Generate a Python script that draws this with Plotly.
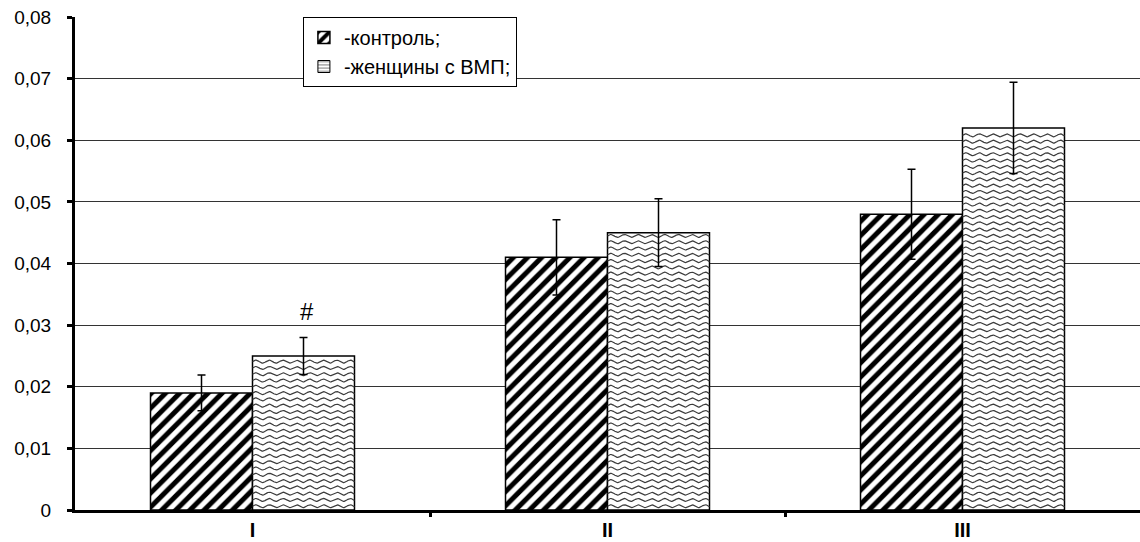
import numpy as np
import plotly.graph_objects as go

# Groups and measured means with their errors
groups = ["I", "II", "III"]
control_vals = [0.019, 0.041, 0.048]
control_err = [0.0029, 0.0061, 0.0073]
vmp_vals = [0.025, 0.045, 0.062]
vmp_err = [0.003, 0.0055, 0.0074]

y_ticks = [0, 0.01, 0.02, 0.03, 0.04, 0.05, 0.06, 0.07, 0.08]
y_ticktext = ["0", "0,01", "0,02", "0,03", "0,04", "0,05", "0,06", "0,07", "0,08"]

FONT = "Liberation Sans, Arial, sans-serif"
BAR_W = 0.2873          # width of one bar in category units
pos = np.arange(len(groups), dtype=float)

# wavy hatch geometry (data units)
WAVE_DY = 0.00102
WAVE_AMP = 0.00024
WAVE_PERIOD = 0.038

fig = go.Figure()

# control bars: diagonal hatch
fig.add_trace(go.Bar(
    x=pos, y=control_vals, name="-контроль;",
    width=BAR_W, offset=-BAR_W,
    marker=dict(color="white", line=dict(color="black", width=1.5),
                pattern=dict(shape="/", fgcolor="black", bgcolor="white",
                             size=10, solidity=0.5, fgopacity=1)),
    showlegend=True,
))
# women with VMP: white bars, wavy hatch drawn on top
fig.add_trace(go.Bar(
    x=pos, y=vmp_vals, name="-женщины с ВМП;",
    width=BAR_W, offset=0,
    marker=dict(color="white", line=dict(color="black", width=1.5)),
    showlegend=False,
))
# legend swatch for the wavy series
fig.add_trace(go.Bar(
    x=[None], y=[None], name="-женщины с ВМП;",
    marker=dict(color="white", line=dict(color="black", width=1),
                pattern=dict(shape="-", fgcolor="#444444", bgcolor="white",
                             size=4, solidity=0.4)),
    showlegend=True,
))

# wavy hatch lines inside each VMP bar
wx, wy = [], []
for p, v in zip(pos, vmp_vals):
    xs = np.linspace(p, p + BAR_W, 140)
    phase = np.sin(2 * np.pi * (xs - p) / WAVE_PERIOD)
    level = WAVE_DY * 0.6
    while level < v - WAVE_DY * 0.4:
        wx.extend(xs.tolist() + [None])
        wy.extend((level + WAVE_AMP * phase).tolist() + [None])
        level += WAVE_DY
fig.add_trace(go.Scatter(
    x=wx, y=wy, mode="lines", line=dict(color="#3c3c3c", width=1.2),
    showlegend=False, hoverinfo="skip",
))

# error bars, drawn above the hatching
for centers, vals, errs in ((pos - BAR_W / 2, control_vals, control_err),
                            (pos + BAR_W / 2, vmp_vals, vmp_err)):
    fig.add_trace(go.Scatter(
        x=centers, y=vals, mode="markers",
        marker=dict(size=1, color="rgba(0,0,0,0)"),
        error_y=dict(type="data", array=errs, color="black",
                     thickness=1.5, width=4),
        showlegend=False, hoverinfo="skip",
    ))

# significance mark over the group I bar
fig.add_annotation(x=pos[0] + BAR_W / 2, y=vmp_vals[0] + vmp_err[0],
                   xshift=3, yshift=10,
                   text="#", showarrow=False, yanchor="bottom",
                   font=dict(family=FONT, size=24, color="black"))

fig.update_layout(
    width=1140, height=542,
    margin=dict(l=75, r=0, t=17, b=32),
    paper_bgcolor="white", plot_bgcolor="white",
    barmode="overlay",
    font=dict(family=FONT, size=19, color="black"),
    showlegend=True,
    legend=dict(x=0.214, y=1.0, xanchor="left", yanchor="top",
                bgcolor="white", bordercolor="black", borderwidth=1,
                font=dict(family=FONT, size=20, color="black"),
                tracegroupgap=0, itemwidth=30, traceorder="normal"),
)

fig.update_yaxes(
    range=[0, 0.08], tickvals=y_ticks, ticktext=y_ticktext,
    showgrid=True, gridcolor="#333333", gridwidth=1,
    showline=True, linecolor="black", linewidth=3,
    ticks="outside", ticklen=5, tickwidth=3, tickcolor="black",
    ticklabelstandoff=12, automargin=False,
    zeroline=False, tickfont=dict(family=FONT, size=19, color="black"),
)
fig.update_xaxes(
    range=[-0.5, len(groups) - 0.5],
    tickvals=pos, ticktext=groups, ticks="",
    minor=dict(tickvals=(pos[:-1] + 0.5).tolist(), ticks="outside",
               ticklen=4, tickwidth=3, tickcolor="black", showgrid=False),
    showgrid=False, zeroline=False, showline=True,
    linecolor="black", linewidth=3, automargin=False,
    tickfont=dict(family=FONT, size=20, color="black", weight="bold"),
)

fig.write_html("out.html")
